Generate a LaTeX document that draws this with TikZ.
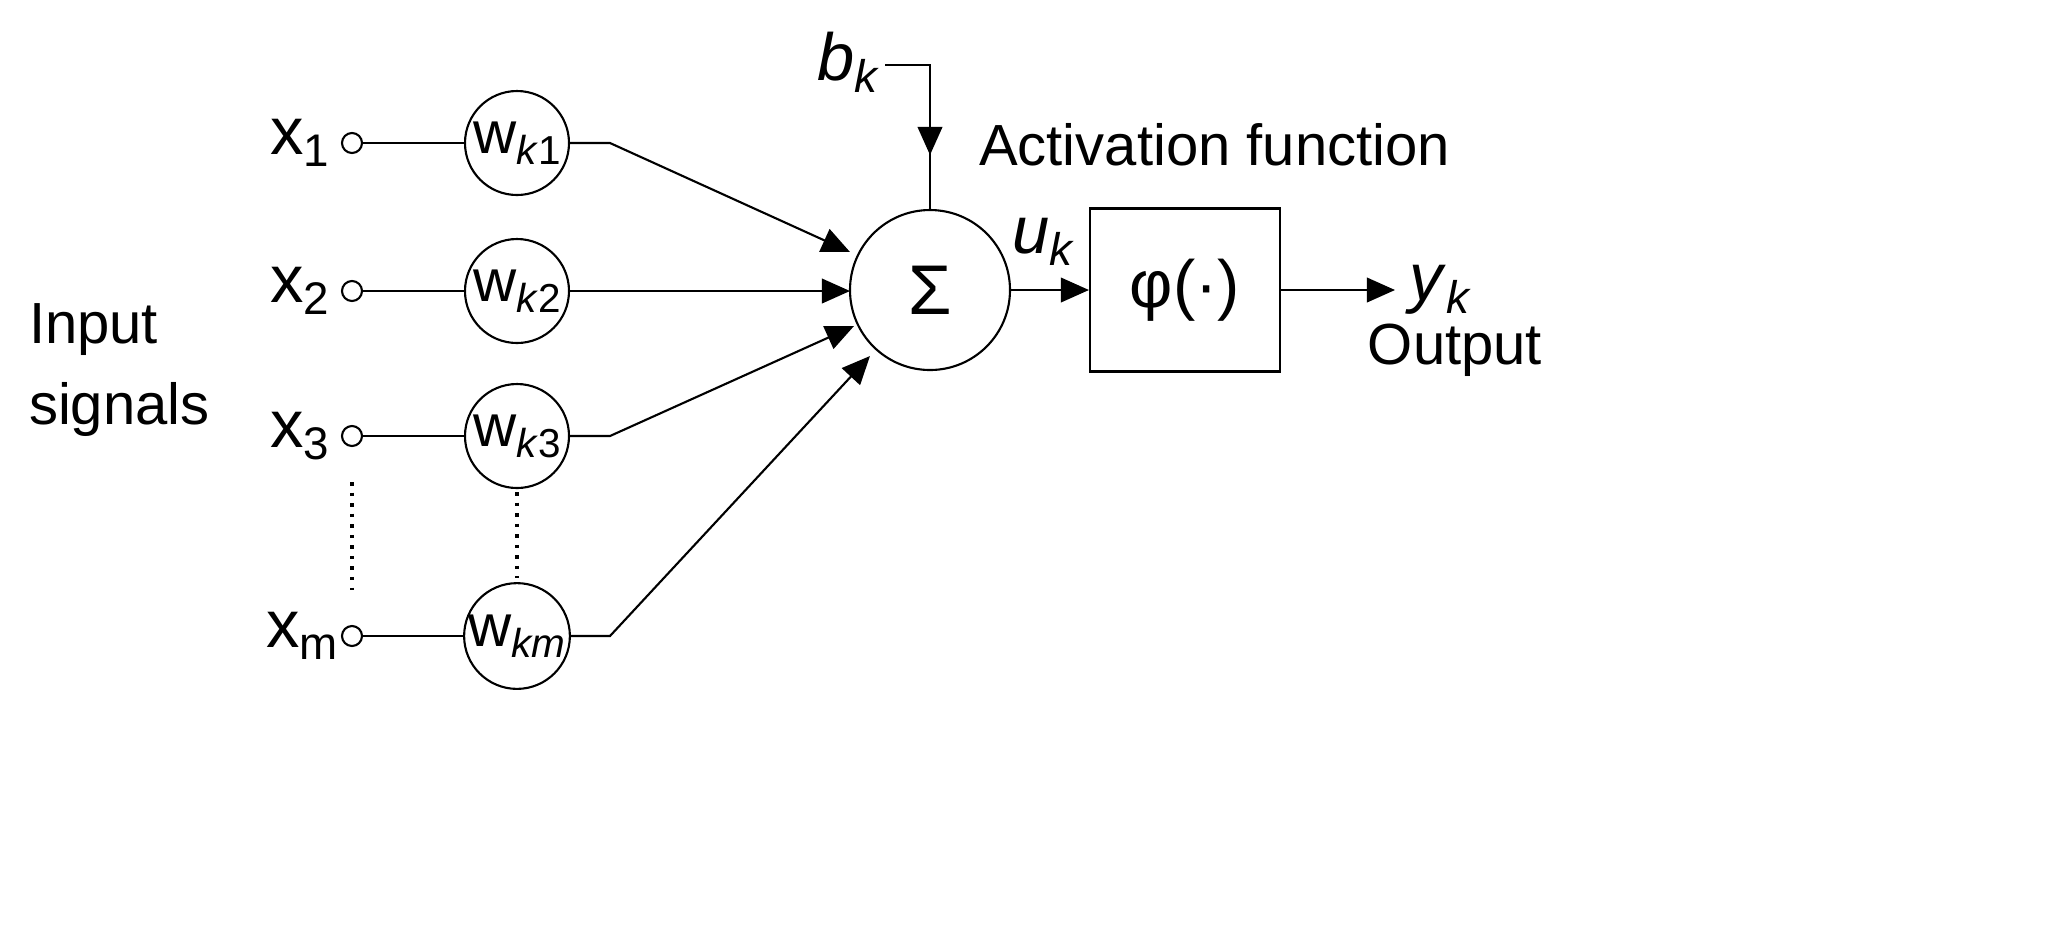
\documentclass[tikz,border=0pt]{standalone}
\usepackage{fontspec}
\setmainfont{Liberation Sans}
\usetikzlibrary{arrows.meta}
\newcommand{\sbs}[1]{\raisebox{-0.35ex}{\fontsize{13}{14}\selectfont #1}}
\newcommand{\wsbs}[1]{\raisebox{-0.35ex}{\fontsize{11.5}{13}\selectfont #1}}
\begin{document}
\begin{tikzpicture}[x=0.01cm,y=-0.01cm,
  txt/.style={font=\fontsize{16.5}{19}\selectfont,inner sep=0},
  var/.style={font=\fontsize{19}{21}\selectfont,inner sep=0},
  term/.style={circle,draw,minimum size=20*0.01cm,inner sep=0},
  wc/.style={circle,draw,minimum size=104*0.01cm,inner sep=0,font=\fontsize{17}{19}\selectfont},
  arr/.style={-{Triangle[length=8pt,width=7pt]}},
  line width=0.6pt]
\useasboundingbox (0,0) rectangle (2060,944);
\node[txt,align=left,anchor=west] (in) at (28,370) {Input\\[4pt]signals};
\foreach \i/\y in {1/143,2/291,3/436}{
  \node[var] (x\i) at (300,\y) {x\sbs{\i}};
  \node[term] (t\i) at (352,\y) {};
  \node[wc] (w\i) at (517,\y) {w\wsbs{\textit{k}\i}};
  \draw (t\i) -- (w\i);
}
\node[var] (x4) at (302,636) {x\sbs{m}};
\node[term] (t4) at (352,636) {};
\node[wc] (w4) at (517,636) {w\wsbs{\textit{km}}};
\draw (t4) -- (w4);
\draw[dotted,line width=1pt] (352,482) -- (352,590);
\draw[dotted,line width=1pt] (517,492) -- (517,578);
\node[circle,draw,minimum size=160*0.01cm,inner sep=0,font=\fontsize{20}{22}\selectfont] (s) at (930,290) {Σ};
\coordinate (e1) at (850,252);
\coordinate (e2) at (850,291);
\coordinate (e3) at (854,326);
\coordinate (e4) at (870,356);
\draw[arr] (w1.east) -- (610,143) -- (e1);
\draw[arr] (w2.east) -- (e2);
\draw[arr] (w3.east) -- (610,436) -- (e3);
\draw[arr] (w4.east) -- (610,636) -- (e4);
\node[var] (b) at (848,62) {\textit{b}\sbs{\textit{k}}};
\coordinate (bc) at (930,65);
\coordinate (bm) at (930,155);
\draw (885,65) -- (bc) -- (s.north);
\draw[arr] (bc) -- (bm);
\node[txt,anchor=west] (af) at (978,145) {Activation function};
\node[draw,minimum width=190*0.01cm,minimum height=163*0.01cm,inner sep=0,font=\fontsize{19}{21}\selectfont] (phi) at (1185,290) {φ(·)};
\draw[arr] (s.east) -- (phi.west);
\node[var] (u) at (1043,242) {\textit{u}\sbs{\textit{k}}};
\node[var] (y) at (1440,290) {\textit{y}\sbs{\textit{k}}};
\draw[arr] (phi.east) -- (1395,290);
\node[txt] (out) at (1455,350) {Output};
\end{tikzpicture}
\end{document}
